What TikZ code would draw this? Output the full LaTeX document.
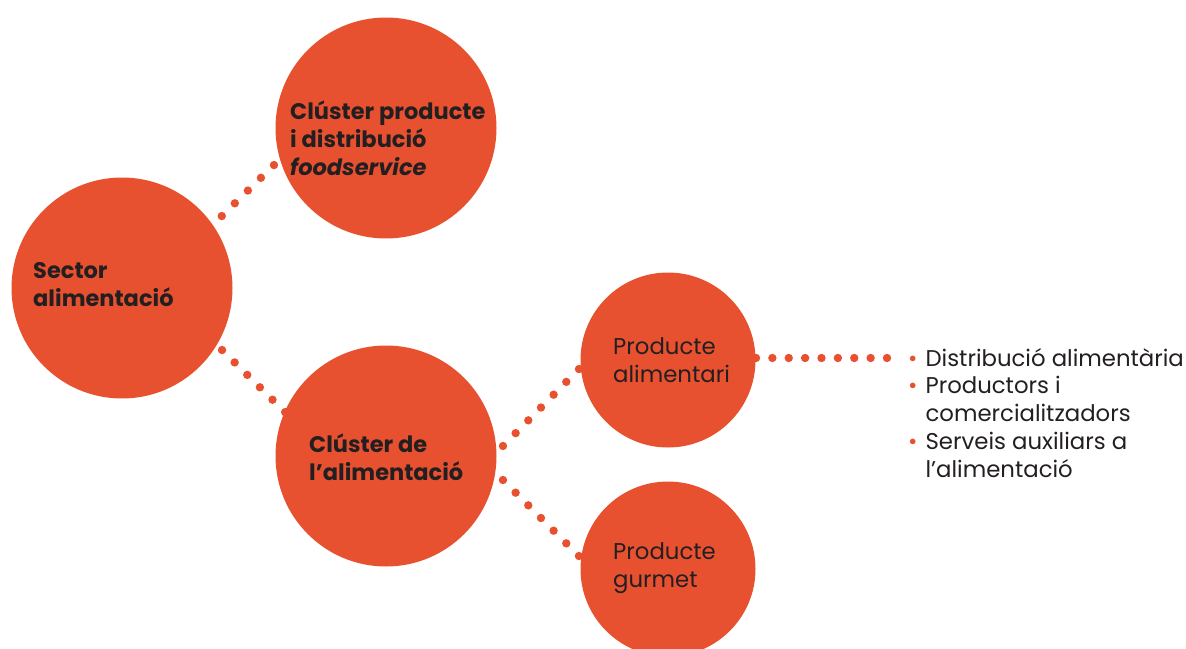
\documentclass[tikz,border=0pt]{standalone}
\usepackage{fontspec}
\setmainfont{Poppins}
\usetikzlibrary{calc}
\definecolor{foodorange}{HTML}{E85130}
\definecolor{fooddark}{HTML}{231F20}
% row of dots from #1 to #2, #3 gaps
\newcommand{\dotlink}[3]{\foreach \i in {0,...,#3} \fill[foodorange] ($(#1)!\i/#3!(#2)$) circle (4.2pt);}

\begin{document}
\begin{tikzpicture}[x=1pt, y=1pt,
    bigcirc/.style={circle, fill=foodorange, minimum size=221pt, inner sep=0pt},
    smallcirc/.style={circle, fill=foodorange, minimum size=175pt, inner sep=0pt},
    boldtxt/.style={anchor=west, align=left, inner sep=0pt, text=fooddark, font=\fontsize{22.5}{28}\selectfont\bfseries},
    plaintxt/.style={anchor=west, align=left, inner sep=0pt, text=fooddark, font=\fontsize{22.8}{27.5}\selectfont}]
    \useasboundingbox (0,0) rectangle (1186,-648);
    \clip (0,0) rectangle (1186,-648);

    \node[bigcirc] (sector) at (122,-288) {};
    \node[bigcirc] (cprod) at (386,-128) {};
    \node[bigcirc] (calim) at (386,-456) {};
    \node[smallcirc] (palim) at (668,-360) {};
    \node[smallcirc] (pgurmet) at (668,-569) {};

    \node[boldtxt] (sector-txt) at (33,-285) {Sector\\alimentació};
    \node[boldtxt] (cprod-txt) at (290,-138) {Clúster producte\\i distribució\\\textit{foodservice}};
    \node[boldtxt] (calim-txt) at (309,-457) {Clúster de\\l’alimentació};
    \node[plaintxt] (palim-txt) at (613,-360) {Producte\\alimentari};
    \node[plaintxt] (pgurmet-txt) at (613,-568) {Producte\\gurmet};

    % dotted connectors
    \dotlink{$(sector)+(35.8:123pt)$}{$(cprod)+(198.3:118pt)$}{4}
    \dotlink{$(sector)+(-31.8:117.7pt)$}{$(calim)+(156.5:110pt)$}{5}
    \dotlink{$(calim)+(4.9:117.4pt)$}{$(palim)+(185.8:89.5pt)$}{6}
    \dotlink{$(calim)+(-11.6:119.4pt)$}{$(pgurmet)+(171.7:90pt)$}{6}
    \coordinate (list-in) at (887,-358);
    \dotlink{$(palim)+(1.3:88pt)$}{list-in}{8}

    \node[anchor=base west, inner sep=0pt, text=fooddark, font=\fontsize{22.8}{27.8}\selectfont] (list) at (908,-366)
      {\begin{tabular}[t]{@{}c@{\hspace{8pt}}l@{}}
        \textcolor{foodorange}{\textbullet} & Distribució alimentària\\
        \textcolor{foodorange}{\textbullet} & Productors i\\
         & comercialitzadors\\
        \textcolor{foodorange}{\textbullet} & Serveis auxiliars a\\
         & l’alimentació
      \end{tabular}};
\end{tikzpicture}
\end{document}
